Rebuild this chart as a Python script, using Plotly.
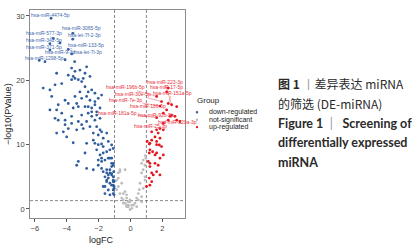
import plotly.graph_objects as go

# ---------------- data ----------------
down_logfc = [
    -4.98, -3.62, -3.62, -4.84, -5.05, -4.42, -3.90, -5.05, -3.69, -5.72,
    -3.50, -4.10,
    -3.69, -3.48, -3.17, -2.85, -3.59, -3.90, -2.96, -4.63, -5.36, -2.75,
    -5.47, -5.05, -4.73, -4.31, -3.69, -3.48, -3.27, -3.06, -2.54, -2.85,
    -2.65, -2.43, -2.23, -3.17, -3.48, -3.06, -2.75, -2.54, -2.23, -2.02,
    -1.81, -4.10, -3.90, -4.53, -4.94, -4.63, -5.05, -4.31, -3.59, -3.27,
    -2.85, -2.43, -2.12, -1.91, -2.65, -3.06, -2.43, -2.23, -1.91, -2.75,
    -3.27, -3.69, -4.10, -3.90, -3.37, -2.96, -2.54, -2.12, -1.91, -2.33,
    -4.53, -4.10,
    -3.37, -4.73, -3.69, -3.06, -2.12, -2.65, -2.23, -2.43, -2.75, -2.33,
    -2.02, -1.81, -1.71, -1.49, -4.00, -4.63, -4.21,
    -1.29, -1.81, -1.39, -2.75, -2.02, -1.81, -1.49, -1.18, -1.39, -1.05,
    -1.49, -1.08, -1.60, -1.39, -1.08, -1.03, -1.60, -1.29,
    -3.59, -2.85, -3.27, -3.37, -2.33, -2.23, -2.02, -1.81, -1.71, -1.39,
    -2.12, -1.91, -1.71, -1.49, -2.02, -1.81, -1.60, -1.29, -1.18, -1.08,
    -1.71, -1.49, -1.29, -1.60, -1.39, -1.18, -1.08, -1.49, -1.29, -1.08,
    -1.71, -1.03, -1.03,
    -1.18, -1.08, -1.18, -1.08, -1.29, -1.18, -1.08, -1.02, -1.08, -1.18,
]
down_logp = [
    29.65, 27.3, 26.4, 26.5, 25.7, 25.8, 24.8, 24.7, 24.1, 23.1,
    22.9, 23.2,
    21.9, 21.4, 21.6, 21.1, 20.6, 20.8, 20.3, 21.1, 22.9, 22.1,
    18.8, 18.5, 19.3, 19.5, 20.1, 20.3, 20.1, 19.8, 20.6, 19.0,
    18.2, 18.5, 18.0, 18.2, 17.5, 17.2, 17.5, 16.9, 16.7, 17.2,
    17.7, 16.9, 16.4, 16.2, 17.5, 15.4, 15.4, 14.9, 15.7, 15.9,
    15.9, 15.7, 15.1, 15.7, 14.9, 14.6, 14.4, 13.8, 14.1, 13.6,
    13.6, 13.3, 13.1, 12.5, 12.3, 12.5, 12.8, 12.8, 12.3, 11.8,
    13.8, 13.8,
    16.4, 14.1, 14.4, 13.1, 14.6, 15.9, 16.2, 15.1, 10.2, 10.7,
    11.5, 12.0, 11.0, 11.8, 11.2, 11.8, 12.0,
    9.2, 7.9, 7.9, 6.3, 6.8, 6.3, 6.1, 6.6, 5.3, 5.8,
    4.5, 4.25, 3.5, 2.95, 2.95, 3.5, 2.4, 2.2,
    10.3, 8.7, 7.4, 6.8, 6.1, 10.2, 10.0, 10.1, 9.7, 10.5,
    9.2, 8.4, 8.7, 8.9, 7.6, 7.4, 7.6, 7.9, 7.1, 6.8,
    5.8, 5.6, 5.6, 5.0, 4.8, 5.3, 4.5, 4.25, 4.0, 3.7,
    3.5, 2.2, 3.2,
    9.95, 9.4, 7.9, 7.1, 6.1, 5.5, 5.0, 4.3, 2.4, 3.7,
]

ns_logfc = [
    0.97, 0.80, 0.70, 0.91, 0.80, 0.70, 0.91, 0.60, 0.55, 0.49,
    0.39, 0.70, 0.28, 0.18, 0.08, -0.03, -0.14, -0.24, -0.34, -0.45,
    -0.55, -0.66, -0.76, -0.87, -0.66, -0.76, -0.55,
    -0.34, -0.34, -0.24, -0.03, 0.08, 0.39, 0.49, 0.70, 0.80, 0.91,
    -0.45, -0.24, -0.14,
    -0.76, -0.66, -0.87, -0.45, -0.24, -0.03, -0.14, 0.93,
]
ns_logp = [
    7.9, 7.6, 7.1, 6.8, 6.1, 5.6, 5.0, 4.0, 3.0, 2.4,
    1.7, 1.1, 0.9, 0.6, 0.1, -0.1, 0.35, 0.6, 0.9, 1.4,
    1.7, 2.4, 3.5, 4.5, 5.8, 4.8, 4.0,
    6.1, 2.7, 2.2, 1.4, 0.6, 0.35, 1.4, 1.9, 3.2, 4.5,
    0.9, 0.35, 1.1,
    5.6, 6.1, 3.0, 2.4, 1.7, 1.1, 0.6, 8.3,
]

up_logfc = [
    1.64, 1.95, 2.37, 2.58, 2.90, 2.27, 2.06, 2.58, 2.79, 2.37,
    2.90, 3.10, 1.85, 2.06, 1.74, 1.54, 1.85, 2.48,
    2.27, 2.37, 1.85, 1.64,
    1.33, 1.64, 2.06,
    1.33, 1.22, 1.64,
    1.05, 1.18, 1.64, 1.81, 1.95, 1.22, 1.39, 1.18, 1.54, 2.06,
    1.12, 1.22, 1.54, 1.64, 1.85, 1.43, 1.18, 1.33, 1.22, 1.01,
    1.64, 1.85, 1.22, 1.74, 1.33,
]
up_logp = [
    17.5, 16.7, 16.4, 16.2, 15.9, 15.4, 14.9, 14.6, 14.4, 13.8,
    13.8, 13.6, 12.5, 12.3, 11.8, 11.2, 11.0, 14.4,
    18.2, 18.8, 16.0, 14.2,
    12.0, 12.3, 13.3,
    10.7, 10.2, 10.0,
    10.5, 10.1, 10.5, 9.95, 9.7, 9.2, 8.9, 8.7, 8.4, 8.4,
    7.4, 7.1, 7.1, 5.8, 5.3, 5.3, 4.8, 4.25, 3.7, 3.5,
    8.7, 7.9, 6.6, 6.8, 5.6,
]

fc_cut = [-1, 1]
p_cut = 1.3

# labelled miRNAs: name, logFC, -log10(P)
down_labels = ["hsa-miR-4474-5p", "hsa-miR-3065-5p", "hsa-let-7f-2-3p", "hsa-miR-577-3p",
               "hsa-miR-342-5p", "hsa-miR-371-5p", "hsa-miR-133-5p", "hsa-miR-9-3p",
               "hsa-let-7i-3p", "hsa-miR-1298-5p"]
down_label_fc = [-4.98, -3.62, -3.62, -4.84, -5.05, -4.42, -3.90, -5.05, -3.69, -5.72]
down_label_p = [29.65, 27.3, 26.4, 26.5, 25.7, 25.8, 24.8, 24.7, 24.1, 23.1]

up_labels = ["hsa-miR-223-3p", "hsa-miR-196b-5p", "hsa-miR-17-5p", "hsa-miR-30e-5p",
             "hsa-miR-151a-5p", "hsa-miR-7e-3p", "hsa-miR-186-5p", "hsa-miR-181a-5p",
             "hsa-miR-92b-5p", "hsa-miR-25-3p", "hsa-miR-320a-3p"]
up_label_fc = [2.58, 1.64, 2.27, 1.95, 2.37, 1.85, 2.27, 1.64, 2.06, 2.37, 2.90]
up_label_p = [16.2, 17.5, 18.2, 16.7, 16.4, 16.0, 15.4, 14.2, 14.9, 13.8, 13.8]

groups = ["down-regulated", "not-significant", "up-regulated"]

# ---------------- layout helpers ----------------
W, H = 415, 249
L, R, T, B = 30, 230, 10, 31
PW, PH = W - L - R, H - T - B
XR = [-6.3, 3.42]
YR = [-1.4, 30.93]

def pxx(px):
    return (px - L) / PW

def pxy(py):
    return (H - B - py) / PH

def dx(px):
    return XR[0] + (px - L) / PW * (XR[1] - XR[0])

def dy(py):
    return YR[1] - (py - T) / PH * (YR[1] - YR[0])

BLUE = "#2F5D9E"
GRAY = "#BDBDBD"
RED = "#E3141C"
BLUE_T = "#3D67AE"
RED_T = "#E8303A"

fig = go.Figure()
for fc, p, col in [(ns_logfc, ns_logp, GRAY), (down_logfc, down_logp, BLUE), (up_logfc, up_logp, RED)]:
    fig.add_trace(go.Scatter(x=fc, y=p, mode="markers",
                             marker=dict(size=2.8, color=col, line=dict(width=0)),
                             showlegend=False, hoverinfo="skip"))

shapes = []
for v in fc_cut:
    shapes.append(dict(type="line", xref="x", yref="paper", x0=v, x1=v, y0=0, y1=1,
                       line=dict(color="#555555", width=0.7, dash="3px,2px"), layer="below"))
shapes.append(dict(type="line", xref="paper", yref="y", x0=0, x1=1, y0=p_cut, y1=p_cut,
                   line=dict(color="#555555", width=0.7, dash="3px,2px"), layer="below"))

# label placement (pixel positions of label centres)
down_lab_px = [(50, 15), (81, 28.3), (84.5, 35), (43.5, 33.3), (43.5, 40), (43.5, 47.3),
               (86, 45), (60, 52.3), (88, 51.7), (44, 58.3)]
up_lab_px = [(164.5, 81.7), (125, 87.3), (166, 86.7), (133, 94), (172, 92.7), (125, 100),
             (147.5, 106), (117.5, 113.3), (155.5, 114.5), (150, 125.5), (177, 121.5)]

ann = []
for names, fcs, ps, pos, col in [(down_labels, down_label_fc, down_label_p, down_lab_px, BLUE_T),
                                 (up_labels, up_label_fc, up_label_p, up_lab_px, RED_T)]:
    for n, fx, fy, (lx, ly) in zip(names, fcs, ps, pos):
        ann.append(dict(x=fx, y=fy, xref="x", yref="y", ax=dx(lx), ay=dy(ly), axref="x", ayref="y",
                        text=n, showarrow=True, arrowhead=0, arrowwidth=0.4, arrowcolor=col,
                        standoff=0, startstandoff=0, borderpad=0,
                        font=dict(size=5.0, color=col, family="Liberation Sans")))

# axis titles
ann.append(dict(x=pxx(101), y=pxy(240), xref="paper", yref="paper", text="logFC", showarrow=False,
                xanchor="center", yanchor="middle",
                font=dict(size=9, color="#222222", family="Liberation Sans")))
ann.append(dict(x=pxx(8), y=pxy(114), xref="paper", yref="paper", text="\u2212log10(PValue)",
                textangle=-90, showarrow=False, xanchor="center", yanchor="middle",
                font=dict(size=9, color="#222222", family="Liberation Sans")))

# manual legend
ann.append(dict(x=pxx(194.5), y=pxy(100.5), xref="paper", yref="paper", text="Group",
                xanchor="left", yanchor="middle", showarrow=False,
                font=dict(size=8, color="#222222", family="Liberation Sans")))
for i, (g, col) in enumerate(zip(groups, [BLUE, GRAY, RED])):
    yy = 112.3 + i * 7.4
    shapes.append(dict(type="circle", xref="paper", yref="paper", xsizemode="pixel", ysizemode="pixel",
                       xanchor=pxx(197), yanchor=pxy(yy), x0=-1.2, x1=1.2, y0=-1.2, y1=1.2,
                       fillcolor=col, line=dict(width=0)))
    ann.append(dict(x=pxx(207.5), y=pxy(yy), xref="paper", yref="paper", text=g, xanchor="left",
                    yanchor="middle", showarrow=False, borderpad=0,
                    font=dict(size=7.0, color="#222222", family="Liberation Sans")))

# caption
cap_font_cn = "Noto Sans CJK SC"
cap = [
    ("<b>图 1</b> <span style='color:#9a9a9a'>丨</span>差异表达 miRNA", 83, cap_font_cn, 12),
    ("的筛选 (DE-miRNA)", 103, cap_font_cn, 12),
    ("<b>Figure 1</b> &nbsp;<span style='color:#9a9a9a'>|</span>&nbsp;&nbsp; <b>Screening of</b>",
     123, "Lato", 12.5),
    ("<b>differentially expressed</b>", 142, "Lato", 12.5),
    ("<b>miRNA</b>", 162, "Lato", 12.5),
]
for txt, yy, fam, sz in cap:
    ann.append(dict(x=pxx(276), y=pxy(yy), xref="paper", yref="paper", text=txt, xanchor="left",
                    yanchor="middle", showarrow=False, font=dict(size=sz, color="#2a2a2a", family=fam)))

axis_common = dict(showgrid=False, zeroline=False, showline=True, mirror=True, linecolor="#8c8c8c",
                   linewidth=0.8, ticks="outside", ticklen=3, tickwidth=0.7, tickcolor="#555555",
                   tickfont=dict(size=7.5, color="#444444", family="Liberation Sans"))

fig.update_layout(
    width=W, height=H, margin=dict(l=L, r=R, t=T, b=B),
    paper_bgcolor="white", plot_bgcolor="white",
    xaxis=dict(range=XR, tickvals=[-6, -4, -2, 0, 2], **axis_common),
    yaxis=dict(range=YR, tickvals=[0, 10, 20, 30], **axis_common),
    shapes=shapes, annotations=ann, showlegend=False,
)
fig.write_html("out.html", config={"displayModeBar": False},
               post_script="document.body.style.margin='0';document.body.style.overflow='hidden';")
